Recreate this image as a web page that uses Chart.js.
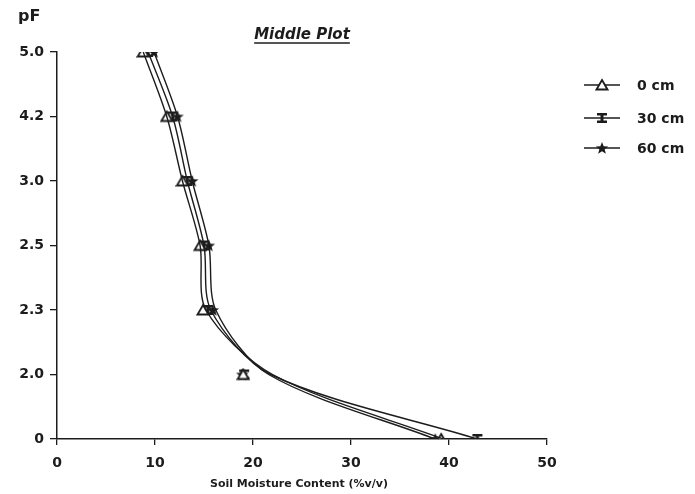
<!DOCTYPE html>
<html>
<head>
<meta charset="utf-8">
<script src="https://cdn.jsdelivr.net/npm/chart.js@4"></script>
<style>
    html, body { margin: 0; padding: 0; background: #fff; }
    #wrap { width: 695px; height: 494px; position: relative; }
</style>
</head>
<body>
<div id="wrap"><canvas id="chart" width="695" height="494"></canvas></div>
<script>
// pF levels, bottom to top (plotted at equal spacing)
const pfLabels = ["0", "2.0", "2.3", "2.5", "3.0", "4.2", "5.0"];
const xTicks = [0, 10, 20, 30, 40, 50];
const seriesNames = ["0 cm", "30 cm", "60 cm"];

// measured points (soil moisture %v/v) per pF level, from pF 0 up to 5.0
const depth0 = [39.2, 19.0, 14.9, 14.6, 12.8, 11.2, 8.8];
const depth30 = [42.9, 19.1, 15.4, 15.0, 13.3, 11.8, 9.3];
const depth60 = [38.6, 18.9, 15.9, 15.5, 13.8, 12.3, 9.9];

// fitted curves as drawn in the figure (same levels)
const curve0 = [39.4, 22.0, 15.2, 14.6, 12.8, 11.2, 8.8];
const curve30 = [42.9, 21.8, 15.7, 15.0, 13.3, 11.8, 9.3];
const curve60 = [38.6, 21.6, 16.2, 15.5, 13.8, 12.3, 9.9];

const ink = "#1c1c1c";
const fontFam = "'DejaVu Sans', sans-serif";

function makeMarker(kind) {
    const c = document.createElement("canvas");
    c.width = 14; c.height = 14;
    const g = c.getContext("2d");
    g.strokeStyle = ink;
    g.fillStyle = ink;
    g.lineWidth = 1.8;
    if (kind === "triangle") {
        g.beginPath();
        g.moveTo(7, 2); g.lineTo(12.5, 11.5); g.lineTo(1.5, 11.5); g.closePath();
        g.fillStyle = "#fff"; g.fill(); g.stroke();
    } else if (kind === "ibeam") {
        g.fillRect(2, 2, 10, 2.5);
        g.fillRect(2, 9.5, 10, 2.5);
        g.fillRect(5.5, 2, 3, 10);
    } else {
        g.beginPath();
        for (let i = 0; i < 10; i++) {
            const r = i % 2 === 0 ? 6.5 : 2.8;
            const a = -Math.PI / 2 + i * Math.PI / 5;
            const px = 7 + r * Math.cos(a), py = 7.5 + r * Math.sin(a);
            if (i === 0) g.moveTo(px, py); else g.lineTo(px, py);
        }
        g.closePath(); g.fill();
    }
    return c;
}

const markers = [makeMarker("triangle"), makeMarker("ibeam"), makeMarker("star")];

function toPoints(values) {
    return values.map((v, i) => ({x: v, y: i}));
}

const curves = [curve0, curve30, curve60];
const points = [depth0, depth30, depth60];
const datasets = [];

curves.forEach((c, i) => {
    datasets.push({
        label: seriesNames[i] + " curve",
        data: toPoints(c),
        showLine: true,
        borderColor: ink,
        borderWidth: 1.4,
        pointRadius: 0,
        tension: 0.3,
        fill: false
    });
});
points.forEach((p, i) => {
    datasets.push({
        label: seriesNames[i],
        data: toPoints(p),
        showLine: false,
        pointStyle: markers[i],
        pointRadius: 6
    });
});

// title, pF label, x title, legend
const decorations = {
    id: "decorations",
    afterDraw(chart) {
        const ctx = chart.ctx;
        ctx.save();
        ctx.fillStyle = ink;
        ctx.strokeStyle = ink;

        ctx.font = "italic bold 15px " + fontFam;
        ctx.textAlign = "center";
        ctx.textBaseline = "alphabetic";
        const title = "Middle Plot";
        ctx.fillText(title, 302, 39);
        const tw = ctx.measureText(title).width;
        ctx.lineWidth = 1.4;
        ctx.beginPath();
        ctx.moveTo(302 - tw / 2, 43); ctx.lineTo(302 + tw / 2, 43); ctx.stroke();

        ctx.font = "bold 16px " + fontFam;
        ctx.textAlign = "left";
        ctx.fillText("pF", 18, 21);

        ctx.font = "bold 11px " + fontFam;
        ctx.textAlign = "center";
        ctx.fillText("Soil Moisture Content (%v/v)", 299, 487);

        ctx.font = "bold 14px " + fontFam;
        ctx.textAlign = "left";
        ctx.textBaseline = "middle";
        const rows = [85, 118, 148];
        rows.forEach((y, i) => {
            ctx.lineWidth = 1.4;
            ctx.beginPath();
            ctx.moveTo(584, y); ctx.lineTo(620, y); ctx.stroke();
            ctx.drawImage(markers[i], 595, y - 7);
            ctx.fillText(seriesNames[i], 637, y + 1);
        });
        ctx.restore();
    }
};

new Chart(document.getElementById("chart"), {
    type: "scatter",
    data: {datasets: datasets},
    options: {
        responsive: false,
        animation: false,
        layout: {padding: {top: 52, right: 148, left: 0, bottom: 0}},
        plugins: {
            legend: {display: false},
            tooltip: {enabled: false}
        },
        scales: {
            x: {
                type: "linear",
                min: xTicks[0],
                max: xTicks[xTicks.length - 1],
                afterBuildTicks: axis => { axis.ticks = xTicks.map(v => ({value: v})); },
                afterFit: axis => { axis.height = 55; },
                border: {color: ink, width: 1.5},
                grid: {drawOnChartArea: false, color: ink, tickLength: 6, lineWidth: 1.3},
                ticks: {color: ink, font: {family: fontFam, size: 14, weight: "bold"}, padding: 10}
            },
            y: {
                type: "linear",
                min: 0,
                max: pfLabels.length - 1,
                afterBuildTicks: axis => { axis.ticks = pfLabels.map((l, i) => ({value: i})); },
                afterFit: axis => { axis.width = 57; },
                border: {color: ink, width: 1.5},
                grid: {drawOnChartArea: false, color: ink, tickLength: 7, lineWidth: 1.3},
                ticks: {
                    color: ink,
                    font: {family: fontFam, size: 14, weight: "bold"},
                    padding: 6,
                    callback: v => pfLabels[v]
                }
            }
        }
    },
    plugins: [decorations]
});
</script>
</body>
</html>
